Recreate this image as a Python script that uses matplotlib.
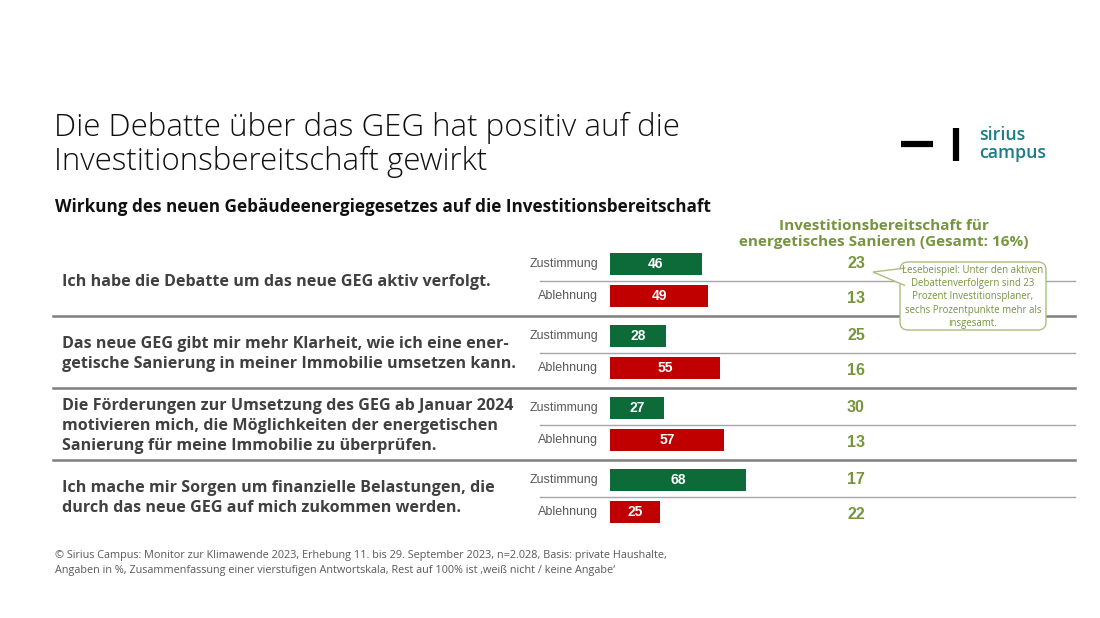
import numpy as np
import matplotlib.pyplot as plt
from matplotlib.patches import FancyBboxPatch, Polygon

plt.rcParams['font.family'] = ['Open Sans', 'DejaVu Sans']

# data
statements = [
    "Ich habe die Debatte um das neue GEG aktiv verfolgt.",
    "Das neue GEG gibt mir mehr Klarheit, wie ich eine ener-\ngetische Sanierung in meiner Immobilie umsetzen kann.",
    "Die Förderungen zur Umsetzung des GEG ab Januar 2024\nmotivieren mich, die Möglichkeiten der energetischen\nSanierung für meine Immobilie zu überprüfen.",
    "Ich mache mir Sorgen um finanzielle Belastungen, die\ndurch das neue GEG auf mich zukommen werden.",
]
zustimmung = [46, 28, 27, 68]
ablehnung = [49, 55, 57, 25]
invest_zu = [23, 25, 30, 17]
invest_ab = [13, 16, 13, 22]

GREEN = '#0d6b3a'
RED = '#c00000'
OLIVE = '#76953c'
DARK = '#404040'
GRAY = '#595959'

W, H = 1100, 618
fig = plt.figure(figsize=(11, 6.18), dpi=100)

# overlay axes in pixel coordinates for text and rules
ov = fig.add_axes([0, 0, 1, 1])
ov.set_xlim(0, W)
ov.set_ylim(H, 0)
ov.axis('off')

# bar axes: x in percent (2 px per percent), y in pixel rows
x0 = 610
bx = fig.add_axes([x0 / W, 0, (W - x0) / W, 1])
bx.set_xlim(0, (W - x0) / 2)
bx.set_ylim(H, 0)
bx.axis('off')
bx.patch.set_alpha(0)

group_top = [264, 336, 408, 480]
gap = 31.5
bar_h = 22

for i in range(4):
    yz = group_top[i]
    ya = yz + gap
    bx.barh(yz, zustimmung[i], height=bar_h, color=GREEN)
    bx.barh(ya, ablehnung[i], height=bar_h, color=RED)
    bx.text(zustimmung[i] / 2, yz, str(zustimmung[i]), color='white', ha='center', va='center',
            fontsize=10, fontweight='bold', family=['Liberation Sans'])
    bx.text(ablehnung[i] / 2, ya, str(ablehnung[i]), color='white', ha='center', va='center',
            fontsize=10, fontweight='bold', family=['Liberation Sans'])
    ov.text(598, yz, 'Zustimmung', ha='right', va='center', fontsize=9, color=GRAY,
            family=['Liberation Sans'])
    ov.text(598, ya, 'Ablehnung', ha='right', va='center', fontsize=9, color=GRAY,
            family=['Liberation Sans'])
    ov.text(856, yz, str(invest_zu[i]), ha='center', va='center', fontsize=11.5, color=OLIVE,
            fontweight='bold', family=['Liberation Sans'])
    ov.text(856, ya + 3, str(invest_ab[i]), ha='center', va='center', fontsize=11.5, color=OLIVE,
            fontweight='bold', family=['Liberation Sans'])
    # thin rule between rows
    ov.plot([540, 1075], [yz + 17, yz + 17], color='#a6a6a6', lw=1)
    # statement
    ov.text(62, (yz + ya) / 2 + 2, statements[i], ha='left', va='center', fontsize=11.6,
            fontweight='bold', color=DARK, linespacing=1.32)
    if i < 3:
        ov.plot([53, 1075], [ya + 20, ya + 20], color='#7f7f7f', lw=1.8)

# titles
ov.text(54, 145, "Die Debatte über das GEG hat positiv auf die\nInvestitionsbereitschaft gewirkt",
        ha='left', va='center', fontsize=22.5, fontweight='light', color='#111111', linespacing=1.08)
ov.text(55, 207, "Wirkung des neuen Gebäudeenergiegesetzes auf die Investitionsbereitschaft",
        ha='left', va='center', fontsize=12.3, fontweight='bold', color='#111111')
ov.text(884, 234, "Investitionsbereitschaft für\nenergetisches Sanieren (Gesamt: 16%)",
        ha='center', va='center', fontsize=11, fontweight='bold', color=OLIVE, linespacing=1.2)

# callout
box = FancyBboxPatch((900, 262), 146, 68, boxstyle='round,pad=0,rounding_size=8',
                     fc='white', ec='#a9bf7f', lw=1, zorder=5)
ov.add_patch(box)
tail = Polygon([[906, 268], [873, 272], [906, 286]], closed=False, fc='white', ec='#a9bf7f',
               lw=1, zorder=6)
ov.add_patch(tail)
ov.plot([906, 906], [269, 285], color='white', lw=2, zorder=7)
ov.text(973, 297, "Lesebeispiel: Unter den aktiven\nDebattenverfolgern sind 23\nProzent Investitionsplaner,\nsechs Prozentpunkte mehr als\ninsgesamt.",
        ha='center', va='center', fontsize=6.9, color=OLIVE, linespacing=1.26, zorder=8)

# logo
ov.plot([901, 933], [144, 144], color='black', lw=4.5, solid_capstyle='butt')
ov.plot([956, 956], [128, 161], color='black', lw=4.5, solid_capstyle='butt')
ov.text(979, 144, "sirius\ncampus", ha='left', va='center', fontsize=12.8, fontweight='semibold',
        color='#1b7d86', linespacing=0.95)

# footnote
ov.text(55, 563, "© Sirius Campus: Monitor zur Klimawende 2023, Erhebung 11. bis 29. September 2023, n=2.028, Basis: private Haushalte,\n"
        "Angaben in %, Zusammenfassung einer vierstufigen Antwortskala, Rest auf 100% ist ‚weiß nicht / keine Angabe‘",
        ha='left', va='center', fontsize=7.8, color=GRAY, linespacing=1.4)

fig.savefig('out.png', dpi=100)
